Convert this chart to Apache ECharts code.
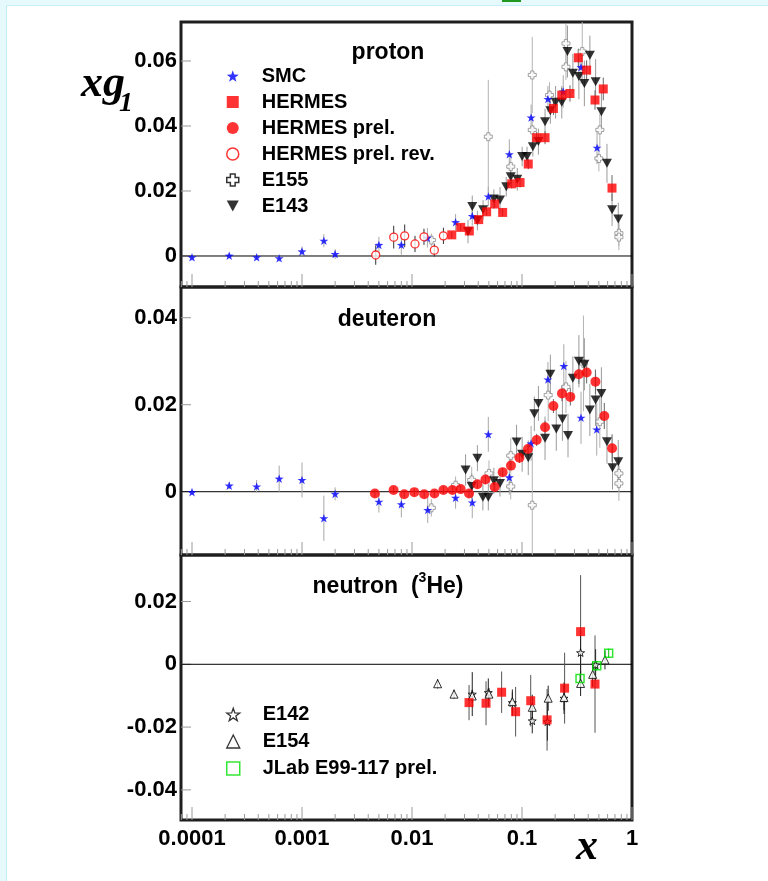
<!DOCTYPE html>
<html>
<head>
<meta charset="utf-8">
<script src="https://cdn.jsdelivr.net/npm/echarts@6/dist/echarts.min.js"></script>
<style>
  html, body { margin: 0; padding: 0; background: #ffffff; }
  #chart { width: 768px; height: 881px; }
</style>
</head>
<body>
<div id="chart"></div>
<script>
// ---- axis ranges and tick labels ----
const X_MIN = Math.pow(10, -4.1);
const X_MAX = 1;
const xLabels = [0.0001, 0.001, 0.01, 0.1, 1];
const yTicksProton = [0, 0.02, 0.04, 0.06];
const yTicksDeuteron = [0, 0.02, 0.04];
const yTicksNeutron = [-0.04, -0.02, 0, 0.02];
const yRangeProton = [-0.00954, 0.0720];
const yRangeDeuteron = [-0.01455, 0.04706];
const yRangeNeutron = [-0.04959, 0.03481];

// ---- proton ----
const pSmcX = [1.0e-4, 2.18e-4, 3.87e-4, 6.2e-4, 1.0e-3, 1.58e-3, 2.0e-3, 5.0e-3, 8.0e-3, 0.0138, 0.0249, 0.0353, 0.0494, 0.0767, 0.121, 0.172, 0.237, 0.344, 0.481];
const pSmcY = [-0.0004, 0.0001, -0.0004, -0.0007, 0.0014, 0.0047, 0.0006, 0.0034, 0.0034, 0.0056, 0.0104, 0.0123, 0.0183, 0.0313, 0.0426, 0.0483, 0.0506, 0.0581, 0.0333];
const pSmcE = [0.0006, 0.0008, 0.0008, 0.001, 0.0015, 0.002, 0.0015, 0.0025, 0.003, 0.003, 0.0025, 0.003, 0.003, 0.0046, 0.004, 0.004, 0.005, 0.005, 0.005];

const pHerX = [0.0230, 0.0277, 0.0332, 0.0404, 0.0477, 0.0565, 0.0667, 0.0806, 0.096, 0.114, 0.136, 0.162, 0.193, 0.230, 0.273, 0.325, 0.387, 0.461, 0.548, 0.658];
const pHerY = [0.0065, 0.0088, 0.0077, 0.0112, 0.0136, 0.0160, 0.0134, 0.0222, 0.0226, 0.0283, 0.0364, 0.0364, 0.0454, 0.0495, 0.0500, 0.0610, 0.0572, 0.0480, 0.0514, 0.0209];
const pHerE = [0.001, 0.001, 0.001, 0.001, 0.0012, 0.0012, 0.0012, 0.0014, 0.0015, 0.0016, 0.0018, 0.002, 0.002, 0.0022, 0.0025, 0.0028, 0.003, 0.003, 0.0035, 0.004];

const pHerRevX = [0.00468, 0.00682, 0.00858, 0.01065, 0.01285, 0.01596, 0.0193];
const pHerRevY = [0.0003, 0.0058, 0.0062, 0.0037, 0.0059, 0.0018, 0.0062];
const pHerRevE = [0.003, 0.0035, 0.0035, 0.0025, 0.0025, 0.002, 0.0025];

const pE155X = [0.0150, 0.0494, 0.079, 0.124, 0.124, 0.178, 0.251, 0.251, 0.353, 0.50, 0.51, 0.76, 0.76];
const pE155Y = [0.0049, 0.0367, 0.0275, 0.0557, 0.0388, 0.0495, 0.0654, 0.0582, 0.0629, 0.0300, 0.0388, 0.0070, 0.0058];
const pE155E = [0.002, 0.0175, 0.004, 0.0117, 0.004, 0.004, 0.006, 0.004, 0.01, 0.004, 0.005, 0.004, 0.004];

const pE143X = [0.0323, 0.0353, 0.0393, 0.0443, 0.0555, 0.0631, 0.0719, 0.079, 0.0906, 0.1003, 0.111, 0.1255, 0.141, 0.162, 0.181, 0.202, 0.230, 0.259, 0.290, 0.329, 0.369, 0.414, 0.467, 0.527, 0.592, 0.659, 0.75];
const pE143Y = [0.0075, 0.0152, 0.0109, 0.0142, 0.0175, 0.0172, 0.0213, 0.0244, 0.0236, 0.0306, 0.0306, 0.0336, 0.0352, 0.0413, 0.0447, 0.0473, 0.0473, 0.0629, 0.0562, 0.0552, 0.0531, 0.0618, 0.0536, 0.0444, 0.0285, 0.0142, 0.0114];
const pE143E = [0.0036, 0.0034, 0.003, 0.003, 0.003, 0.004, 0.003, 0.003, 0.0035, 0.003, 0.003, 0.003, 0.004, 0.004, 0.004, 0.005, 0.005, 0.008, 0.006, 0.007, 0.007, 0.006, 0.007, 0.006, 0.006, 0.005, 0.005];

// ---- deuteron ----
const dSmcX = [1.0e-4, 2.18e-4, 3.87e-4, 6.2e-4, 1.0e-3, 1.58e-3, 2.0e-3, 5.0e-3, 8.0e-3, 0.0139, 0.0249, 0.0353, 0.0494, 0.0767, 0.121, 0.172, 0.240, 0.344, 0.478];
const dSmcY = [-0.0001, 0.0014, 0.0012, 0.0030, 0.0027, -0.0061, -0.0005, -0.0023, -0.0029, -0.0042, -0.0014, -0.0025, 0.0132, 0.0033, 0.0111, 0.0258, 0.0289, 0.0170, 0.0143];
const dSmcE = [0.0005, 0.0008, 0.0015, 0.003, 0.004, 0.0052, 0.0015, 0.0025, 0.003, 0.003, 0.0025, 0.0036, 0.004, 0.004, 0.004, 0.004, 0.005, 0.006, 0.006];

const dHerPrelX = [0.0046, 0.0068, 0.0085, 0.0105, 0.0129, 0.016, 0.0193, 0.0233, 0.0277, 0.033, 0.0393, 0.0465, 0.0565, 0.0667, 0.0794, 0.0948, 0.1133, 0.136, 0.162, 0.193, 0.231, 0.275, 0.329, 0.387, 0.465, 0.56, 0.659];
const dHerPrelY = [-0.0004, 0.0004, -0.0006, -0.0001, -0.0006, -0.0004, 0.0004, 0.0004, 0.0006, -0.0004, 0.0017, 0.0028, 0.0011, 0.0045, 0.0060, 0.0078, 0.0098, 0.0119, 0.0148, 0.0197, 0.0226, 0.0218, 0.0270, 0.0274, 0.0253, 0.0174, 0.0100];
const dHerPrelE = [0.0008, 0.0008, 0.0008, 0.0008, 0.0008, 0.0008, 0.0008, 0.0008, 0.0008, 0.0009, 0.0009, 0.001, 0.001, 0.001, 0.0011, 0.0012, 0.0013, 0.0014, 0.0015, 0.0016, 0.0018, 0.002, 0.0022, 0.0025, 0.0028, 0.003, 0.0032];

const dE143X = [0.0307, 0.0349, 0.0393, 0.0441, 0.0494, 0.0555, 0.0631, 0.0893, 0.1003, 0.114, 0.1295, 0.141, 0.162, 0.181, 0.205, 0.233, 0.262, 0.290, 0.329, 0.369, 0.414, 0.467, 0.527, 0.592, 0.665, 0.75];
const dE143Y = [0.0050, 0.0012, 0.0077, -0.0013, -0.0013, 0.0025, 0.0019, 0.0114, 0.0086, 0.0078, 0.0179, 0.0203, 0.0123, 0.0270, 0.0144, 0.0167, 0.0129, 0.0261, 0.0300, 0.0293, 0.0188, 0.0211, 0.0226, 0.0115, 0.0055, 0.0069];
const dE143E = [0.0036, 0.003, 0.003, 0.003, 0.003, 0.003, 0.003, 0.004, 0.004, 0.004, 0.004, 0.004, 0.005, 0.0045, 0.005, 0.005, 0.005, 0.005, 0.006, 0.006, 0.006, 0.006, 0.006, 0.005, 0.005, 0.005];

const dE155X = [0.015, 0.0249, 0.0349, 0.0501, 0.079, 0.079, 0.124, 0.173, 0.251, 0.362, 0.51, 0.76, 0.76];
const dE155Y = [-0.0037, 0.0015, 0.0027, 0.0042, 0.0083, 0.0012, -0.0031, 0.0222, 0.0241, 0.0295, 0.0161, 0.0042, 0.0019];
const dE155E = [0.002, 0.002, 0.003, 0.003, 0.004, 0.003, 0.013, 0.006, 0.006, 0.011, 0.006, 0.004, 0.004];

// ---- neutron (3He) ----
const nE154X = [0.0171, 0.0241, 0.0353, 0.0501, 0.0817, 0.124, 0.173, 0.241, 0.341, 0.439, 0.568];
const nE154Y = [-0.0062, -0.0095, -0.0101, -0.0095, -0.0119, -0.0137, -0.0108, -0.0106, -0.0061, -0.0032, 0.0014];
const nE154E = [0.0015, 0.0015, 0.002, 0.002, 0.003, 0.004, 0.004, 0.004, 0.004, 0.004, 0.003];

const nE142X = [0.0353, 0.0494, 0.0817, 0.124, 0.170, 0.241, 0.341, 0.467];
const nE142Y = [-0.0095, -0.0090, -0.0122, -0.0180, -0.0183, -0.0108, 0.0037, -0.0002];
const nE142E = [0.007, 0.0045, 0.0042, 0.004, 0.006, 0.005, 0.007, 0.005];

const nHerX = [0.0330, 0.0471, 0.0653, 0.0875, 0.120, 0.169, 0.244, 0.341, 0.461];
const nHerY = [-0.0122, -0.0124, -0.0089, -0.0151, -0.0116, -0.0177, -0.0076, 0.0104, -0.0063];
const nHerE = [0.0056, 0.007, 0.0066, 0.0079, 0.0082, 0.0098, 0.0113, 0.018, 0.0155];

const nJlabX = [0.337, 0.478, 0.614];
const nJlabY = [-0.0045, -0.0005, 0.0035];
const nJlabE = [0.0015, 0.0015, 0.0015];

// ---- styling ----
const SANS = '"Liberation Sans", Arial, Helvetica, sans-serif';
const SERIF = '"Liberation Serif", "Times New Roman", serif';
const STAR = 'path://M10,0L12.35,6.76L19.51,6.91L13.8,11.24L15.88,18.09L10,14L4.12,18.09L6.2,11.24L0.49,6.91L7.65,6.76Z';
const DOWN_TRI = 'path://M0,0L10,0L5,9Z';
const CROSS = 'path://M3,0L7,0L7,3L10,3L10,7L7,7L7,10L3,10L3,7L0,7L0,3L3,3Z';
const yRanges = [yRangeProton, yRangeDeuteron, yRangeNeutron];

function pts(xs, ys) { return xs.map((x, i) => [x, ys[i]]); }

function errorBars(gi, xs, ys, es, color) {
  return {
    type: 'custom', xAxisIndex: gi, yAxisIndex: gi, silent: true, clip: true, z: 2,
    data: xs.map((x, i) => [x, ys[i] - es[i], ys[i] + es[i]]),
    encode: { x: 0, y: [1, 2] },
    renderItem: function (params, api) {
      const a = api.coord([api.value(0), api.value(1)]);
      const b = api.coord([api.value(0), api.value(2)]);
      return { type: 'line', shape: { x1: a[0], y1: a[1], x2: b[0], y2: b[1] },
               style: { stroke: color, lineWidth: 1 } };
    }
  };
}

function points(gi, name, xs, ys, symbol, size, itemStyle, z) {
  return {
    type: 'scatter', name: name, xAxisIndex: gi, yAxisIndex: gi, silent: true,
    data: pts(xs, ys), symbol: symbol, symbolSize: size, symbolKeepAspect: true,
    itemStyle: itemStyle, z: z || 4
  };
}

// log-axis tick marks along the bottom of a panel
const xTickVals = [];
for (let d = -5; d <= -1; d++) {
  for (let m = 1; m <= 9; m++) {
    const v = m * Math.pow(10, d);
    if (v >= X_MIN && v <= X_MAX) xTickVals.push([v, m === 1 ? 1 : 0]);
  }
}
xTickVals.push([1, 1]);

function xTicks(gi) {
  const yMin = yRanges[gi][0];
  return {
    type: 'custom', xAxisIndex: gi, yAxisIndex: gi, silent: true, z: 1,
    data: xTickVals.map(t => [t[0], yMin, t[1]]),
    encode: { x: 0, y: 1 },
    renderItem: function (params, api) {
      const p = api.coord([api.value(0), yMin]);
      const len = api.value(2) ? 13 : 6;
      return { type: 'line', shape: { x1: p[0], y1: p[1], x2: p[0], y2: p[1] - len },
               style: { stroke: '#9a9a9a', lineWidth: 1 } };
    }
  };
}

function yTicks(gi, ticks) {
  return {
    type: 'custom', xAxisIndex: gi, yAxisIndex: gi, silent: true, z: 1,
    data: ticks.map(v => [X_MIN, v]),
    encode: { x: 0, y: 1 },
    renderItem: function (params, api) {
      const v = api.value(1);
      const p = api.coord([X_MIN, v]);
      return { type: 'group', children: [
        { type: 'line', shape: { x1: p[0], y1: p[1], x2: p[0] + 10, y2: p[1] },
          style: { stroke: '#9a9a9a', lineWidth: 1 } },
        { type: 'text', x: p[0] - 4, y: p[1],
          style: { text: String(v), fill: '#000', fontFamily: SANS, fontWeight: 'bold',
                   fontSize: 22, align: 'right', verticalAlign: 'middle' } }
      ] };
    }
  };
}

function zeroLine(gi) {
  return {
    type: 'custom', xAxisIndex: gi, yAxisIndex: gi, silent: true, z: 1,
    data: [[X_MIN, 0]], encode: { x: 0, y: 1 },
    renderItem: function (params, api) {
      const a = api.coord([X_MIN, 0]);
      const b = api.coord([X_MAX, 0]);
      return { type: 'line', shape: { x1: a[0], y1: a[1], x2: b[0], y2: b[1] },
               style: { stroke: '#000', lineWidth: 1 } };
    }
  };
}

function xTickLabels(gi) {
  const yMin = yRanges[gi][0];
  return {
    type: 'custom', xAxisIndex: gi, yAxisIndex: gi, silent: true, z: 1,
    data: xLabels.map(v => [v, yMin]), encode: { x: 0, y: 1 },
    renderItem: function (params, api) {
      const v = api.value(0);
      const p = api.coord([v, yMin]);
      return { type: 'text', x: p[0], y: p[1] + 19,
               style: { text: String(v), fill: '#000', fontFamily: SANS, fontWeight: 'bold',
                        fontSize: 22, align: 'center', verticalAlign: 'middle' } };
    }
  };
}

// marker styles
const stSmc = { color: '#0000ff' };
const stHer = { color: '#ff0000' };
const stHerRev = { color: '#ffffff', borderColor: '#ff0000', borderWidth: 1.3 };
const stE155 = { color: '#ffffff', borderColor: '#8a8a8a', borderWidth: 1 };
const stE143 = { color: '#000000' };
const stE142 = { color: '#ffffff', borderColor: '#000000', borderWidth: 1 };
const stE154 = { color: '#ffffff', borderColor: '#000000', borderWidth: 1 };
const stJlab = { color: 'rgba(255,255,255,0)', borderColor: '#00e000', borderWidth: 1.5 };

const series = [
  // decorations
  xTicks(0), xTicks(1), xTicks(2),
  yTicks(0, yTicksProton), yTicks(1, yTicksDeuteron), yTicks(2, yTicksNeutron),
  zeroLine(0), zeroLine(1), zeroLine(2),
  xTickLabels(2),

  // proton
  errorBars(0, pE155X, pE155Y, pE155E, '#b4b4b4'),
  errorBars(0, pE143X, pE143Y, pE143E, '#9a9a9a'),
  errorBars(0, pSmcX, pSmcY, pSmcE, '#a8a8a8'),
  errorBars(0, pHerRevX, pHerRevY, pHerRevE, '#333333'),
  errorBars(0, pHerX, pHerY, pHerE, '#666666'),
  points(0, 'SMC', pSmcX, pSmcY, STAR, 9, stSmc, 6),
  points(0, 'HERMES', pHerX, pHerY, 'rect', 9, stHer, 7),
  points(0, 'E155', pE155X, pE155Y, CROSS, 8, stE155, 4),
  points(0, 'E143', pE143X, pE143Y, DOWN_TRI, 10, stE143, 5),
  points(0, 'HERMES prel. rev.', pHerRevX, pHerRevY, 'circle', 8, stHerRev, 7),

  // deuteron
  errorBars(1, dE155X, dE155Y, dE155E, '#b4b4b4'),
  errorBars(1, dE143X, dE143Y, dE143E, '#9a9a9a'),
  errorBars(1, dSmcX, dSmcY, dSmcE, '#a8a8a8'),
  errorBars(1, dHerPrelX, dHerPrelY, dHerPrelE, '#666666'),
  points(1, 'HERMES prel.', dHerPrelX, dHerPrelY, 'circle', 10, stHer, 7),
  points(1, 'E155', dE155X, dE155Y, CROSS, 8, stE155, 4),
  points(1, 'E143', dE143X, dE143Y, DOWN_TRI, 10, stE143, 5),
  points(1, 'SMC', dSmcX, dSmcY, STAR, 9, stSmc, 6),

  // neutron
  errorBars(2, nHerX, nHerY, nHerE, '#555555'),
  errorBars(2, nE154X, nE154Y, nE154E, '#222222'),
  errorBars(2, nE142X, nE142Y, nE142E, '#222222'),
  errorBars(2, nJlabX, nJlabY, nJlabE, '#00c000'),
  points(2, 'E142', nE142X, nE142Y, STAR, 8, stE142, 5),
  points(2, 'E154', nE154X, nE154Y, 'triangle', 8, stE154, 5),
  points(2, 'HERMES', nHerX, nHerY, 'rect', 9, stHer, 6),
  points(2, 'JLab E99-117 prel.', nJlabX, nJlabY, 'rect', 8, stJlab, 7)
];

const legendText = { color: '#000', fontFamily: SANS, fontWeight: 'bold', fontSize: 20, padding: [0, 0, 0, 18] };

const option = {
  animation: false,
  backgroundColor: '#ffffff',
  grid: [
    { left: 181, top: 22, width: 451, height: 265, show: true, borderColor: '#1e1e1e', borderWidth: 3, backgroundColor: 'transparent' },
    { left: 181, top: 287, width: 451, height: 268, show: true, borderColor: '#1e1e1e', borderWidth: 3, backgroundColor: 'transparent' },
    { left: 181, top: 555, width: 451, height: 265, show: true, borderColor: '#1e1e1e', borderWidth: 3, backgroundColor: 'transparent' }
  ],
  xAxis: [0, 1, 2].map(i => ({ type: 'log', logBase: 10, gridIndex: i, min: X_MIN, max: X_MAX, show: false })),
  yAxis: [0, 1, 2].map(i => ({ type: 'value', gridIndex: i, min: yRanges[i][0], max: yRanges[i][1], show: false })),
  legend: [
    {
      data: ['SMC', 'HERMES', 'HERMES prel.',
             { name: 'HERMES prel. rev.', itemStyle: { borderWidth: 1.5 } },
             { name: 'E155', itemStyle: { borderWidth: 1.5, borderColor: '#000' } },
             'E143'],
      orient: 'vertical', left: 226, top: 63, padding: 0, itemGap: 0,
      itemWidth: 12, itemHeight: 12, selectedMode: false,
      textStyle: Object.assign({ lineHeight: 26 }, legendText)
    },
    {
      data: [{ name: 'E142', itemStyle: { borderWidth: 1.3 } },
             { name: 'E154', itemStyle: { borderWidth: 1.3 } },
             { name: 'JLab E99-117 prel.', itemStyle: { borderWidth: 1.5 } }],
      orient: 'vertical', left: 226, top: 701, padding: 0, itemGap: 0,
      itemWidth: 13, itemHeight: 13, selectedMode: false,
      textStyle: Object.assign({ lineHeight: 27 }, legendText)
    }
  ],
  graphic: [
    { type: 'rect', silent: true, shape: { x: 0, y: 0, width: 768, height: 5 }, style: { fill: '#e6f9fd' } },
    { type: 'rect', silent: true, shape: { x: 0, y: 0, width: 6, height: 881 }, style: { fill: '#e6f9fd' } },
    { type: 'line', silent: true, shape: { x1: 6, y1: 5.5, x2: 768, y2: 5.5 }, style: { stroke: '#c4eff8', lineWidth: 1 } },
    { type: 'line', silent: true, shape: { x1: 6.5, y1: 5, x2: 6.5, y2: 881 }, style: { stroke: '#c4eff8', lineWidth: 1 } },
    { type: 'rect', silent: true, shape: { x: 502, y: 0, width: 19, height: 2 }, style: { fill: '#1f9a1f' } },
    { type: 'text', silent: true, x: 388, y: 53,
      style: { text: 'proton', fill: '#000', fontFamily: SANS, fontWeight: 'bold', fontSize: 23, align: 'center', verticalAlign: 'middle' } },
    { type: 'text', silent: true, x: 387, y: 320,
      style: { text: 'deuteron', fill: '#000', fontFamily: SANS, fontWeight: 'bold', fontSize: 23, align: 'center', verticalAlign: 'middle' } },
    { type: 'text', silent: true, x: 388, y: 587,
      style: { text: '{a|neutron  (}{s|3}{a|He)}', fill: '#000', align: 'center', verticalAlign: 'middle',
               rich: { a: { fontFamily: SANS, fontWeight: 'bold', fontSize: 23, fill: '#000' },
                       s: { fontFamily: SANS, fontWeight: 'bold', fontSize: 14, fill: '#000', padding: [0, 0, 18, 0] } } } },
    { type: 'text', silent: true, x: 81, y: 85,
      style: { text: 'xg', fill: '#000', fontFamily: SERIF, fontWeight: 'bold', fontStyle: 'italic', fontSize: 44, align: 'left', verticalAlign: 'middle' } },
    { type: 'text', silent: true, x: 119, y: 104,
      style: { text: '1', fill: '#000', fontFamily: SERIF, fontWeight: 'bold', fontStyle: 'italic', fontSize: 28, align: 'left', verticalAlign: 'middle' } },
    { type: 'text', silent: true, x: 576, y: 848,
      style: { text: 'x', fill: '#000', fontFamily: SERIF, fontWeight: 'bold', fontStyle: 'italic', fontSize: 44, align: 'left', verticalAlign: 'middle' } }
  ],
  series: series
};

const chart = echarts.init(document.getElementById('chart'), null, { renderer: 'canvas' });
chart.setOption(option);
</script>
</body>
</html>
